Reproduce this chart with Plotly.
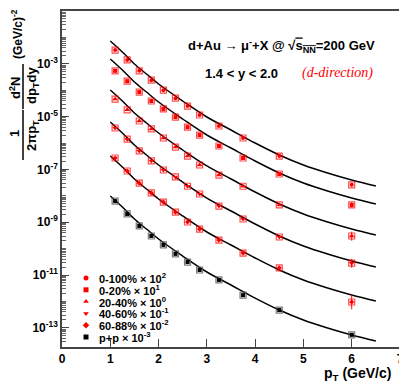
import plotly.graph_objects as go

# --- data ---
pt = [1.1, 1.35, 1.6, 1.85, 2.1, 2.35, 2.6, 2.85, 3.25, 3.75, 4.5, 6.0]

dau_0_100 = [3.3e-3, 1.4e-3, 5.4e-4, 2.4e-4, 1.0e-4, 5.0e-5, 2.5e-5, 1.15e-5, 4.4e-6, 1.55e-6, 3.2e-7, 2.6e-8]
dau_0_20 = [5.4e-4, 2.2e-4, 8.5e-5, 3.9e-5, 1.95e-5, 9.6e-6, 4.0e-6, 2.0e-6, 7.7e-7, 2.7e-7, 6.7e-8, 4.5e-9]
dau_20_40 = [4.6e-5, 1.8e-5, 6.8e-6, 3.4e-6, 1.55e-6, 7.0e-7, 3.2e-7, 1.47e-7, 6.1e-8, 2.3e-8, 4.5e-9, 3.0e-10]
dau_40_60 = [3.7e-6, 1.4e-6, 5.0e-7, 2.1e-7, 9.5e-8, 5.2e-8, 2.3e-8, 1.17e-8, 4.1e-9, 1.32e-9, 2.75e-10, 2.8e-11]
dau_60_88 = [2.7e-7, 8.7e-8, 3.0e-8, 1.28e-8, 5.8e-9, 2.4e-9, 1.02e-9, 5.5e-10, 2.1e-10, 6.8e-11, 1.85e-11, 9.5e-13]
pp_ref = [6.3e-9, 2.05e-9, 7.2e-10, 3.0e-10, 1.38e-10, 6.3e-11, 3.1e-11, 1.55e-11, 6.5e-12, 1.73e-12, 4.7e-13, 5.4e-14]

# statistical errors (only visible at high pT)
err_up = {
    "0-100": [0] * 11 + [4.0e-9],
    "0-20": [0] * 11 + [1.2e-9],
    "20-40": [0] * 11 + [1.4e-10],
    "40-60": [0] * 11 + [1.3e-11],
    "60-88": [0] * 11 + [8.0e-13],
    "pp": [0] * 12,
}
err_dn = {
    "0-100": [0] * 11 + [3.5e-9],
    "0-20": [0] * 11 + [9.0e-10],
    "20-40": [0] * 11 + [1.0e-10],
    "40-60": [0] * 11 + [9.0e-12],
    "60-88": [0] * 11 + [4.5e-13],
    "pp": [0] * 12,
}

# fit curves
fit_pt = [1.0, 1.25, 1.5, 1.75, 2.0, 2.5, 3.0, 3.5, 4.0, 4.5, 5.0, 5.5, 6.0, 6.5]
fit_0_100 = [7.31e-3, 2.80e-3, 9.84e-4, 4.11e-4, 1.72e-4, 3.90e-5, 9.66e-6, 3.11e-6, 1.0e-6, 3.52e-7, 1.47e-7, 7.31e-8, 3.97e-8, 2.36e-8]
fit_0_20 = [1.52e-3, 5.82e-4, 2.05e-4, 8.55e-5, 3.57e-5, 8.11e-6, 2.01e-6, 6.47e-7, 2.08e-7, 7.31e-8, 3.05e-8, 1.52e-8, 8.26e-9, 4.90e-9]
fit_20_40 = [1.02e-4, 3.90e-5, 1.37e-5, 5.73e-6, 2.39e-6, 5.43e-7, 1.35e-7, 4.34e-8, 1.39e-8, 4.90e-9, 2.05e-9, 1.02e-9, 5.53e-10, 3.28e-10]
fit_40_60 = [6.24e-6, 2.39e-6, 8.39e-7, 3.51e-7, 1.47e-7, 3.33e-8, 8.24e-9, 2.65e-9, 8.53e-10, 3.00e-10, 1.25e-10, 6.24e-11, 3.39e-11, 2.01e-11]
fit_60_88 = [3.22e-7, 1.23e-7, 4.34e-8, 1.81e-8, 7.57e-9, 1.72e-9, 4.26e-10, 1.37e-10, 4.41e-11, 1.55e-11, 6.47e-12, 3.22e-12, 1.75e-12, 1.04e-12]
fit_pp = [9.82e-9, 3.76e-9, 1.32e-9, 5.52e-10, 2.31e-10, 5.24e-11, 1.30e-11, 4.18e-12, 1.34e-12, 4.72e-13, 1.97e-13, 9.82e-14, 5.33e-14, 3.16e-14]

y_tick_vals = [1e-1, 1e-3, 1e-5, 1e-7, 1e-9, 1e-11, 1e-13]
y_tick_text = ["10<sup>-1</sup>", "10<sup>-3</sup>", "10<sup>-5</sup>", "10<sup>-7</sup>",
               "10<sup>-9</sup>", "10<sup>-11</sup>", "10<sup>-13</sup>"]

series = [
    ("0-100", "0-100% × 10<sup>2</sup>", dau_0_100, fit_0_100, "circle", "red", 4),
    ("0-20", "0-20% × 10<sup>1</sup>", dau_0_20, fit_0_20, "square", "red", 4),
    ("20-40", "20-40% × 10<sup>0</sup>", dau_20_40, fit_20_40, "triangle-up", "red", 5),
    ("40-60", "40-60% × 10<sup>-1</sup>", dau_40_60, fit_40_60, "triangle-down", "red", 5),
    ("60-88", "60-88% × 10<sup>-2</sup>", dau_60_88, fit_60_88, "diamond", "red", 4),
    ("pp", "p+p × 10<sup>-3</sup>", pp_ref, fit_pp, "square", "black", 4),
]

# --- layout in pixels ---
# the page body has an 8px margin, so the figure is shrunk and everything is
# positioned in window pixels minus that offset
OFF = 8
WIN_W, WIN_H = 407, 387
W, H = WIN_W - OFF, WIN_H - OFF
ML, MR, MT, MB = 62 - OFF, 7, 11 - OFF, 40
PW, PH = W - ML - MR, H - MT - MB
BOLD = dict(family="Liberation Sans, Arial, sans-serif", color="black", weight="bold")


def px(x):
    return (x - OFF - ML) / PW


def py(y):
    return (H - MB - (y - OFF)) / PH


fig = go.Figure()

for key, label, vals, fit, sym, col, msize in series:
    fig.add_trace(go.Scatter(
        x=fit_pt, y=fit, mode="lines", line=dict(color="black", width=1.5, shape="spline"),
        showlegend=False, hoverinfo="skip"))
    box_col = "rgba(255,0,0,0.7)" if col == "red" else "rgba(90,90,90,0.8)"
    fig.add_trace(go.Scatter(
        x=pt, y=vals, mode="markers",
        marker=dict(symbol="square-open", size=6, color=box_col, line=dict(width=1.2)),
        showlegend=False, hoverinfo="skip"))
    fig.add_trace(go.Scatter(
        x=pt, y=vals, mode="markers", name=label,
        marker=dict(symbol=sym, size=msize, color=col),
        error_y=dict(type="data", array=err_up[key], arrayminus=err_dn[key],
                     color=col, thickness=1, width=0),
        showlegend=False))

# hand-made legend on an overlay axis measured in pixels
leg_x, leg_y0, leg_dy = 86, 278, 11.8
for i, (key, label, vals, fit, sym, col, msize) in enumerate(series):
    row_y = leg_y0 + i * leg_dy
    fig.add_trace(go.Scatter(
        x=[px(leg_x) * PW], y=[py(row_y) * PH], xaxis="x2", yaxis="y2", mode="markers",
        marker=dict(symbol=sym, size=5, color=col), showlegend=False, hoverinfo="skip"))
    fig.add_annotation(text=label, x=px(97), y=py(row_y), xref="paper", yref="paper",
                       xanchor="left", yanchor="middle", showarrow=False,
                       font=dict(BOLD, size=11))

# header text
fig.add_annotation(text="d+Au → μ<sup>-</sup>+X @ √<span style='text-decoration:overline'>s<sub>NN</sub></span>=200 GeV",
                   x=px(281), y=py(46), xref="paper", yref="paper", showarrow=False,
                   xanchor="center", yanchor="middle", font=dict(BOLD, size=13))
fig.add_annotation(text="1.4 < y < 2.0", x=px(241), y=py(73), xref="paper", yref="paper",
                   showarrow=False, xanchor="center", yanchor="middle", font=dict(BOLD, size=13))
fig.add_annotation(text="<i>(d-direction)</i>", x=px(337), y=py(73), xref="paper", yref="paper",
                   showarrow=False, xanchor="center", yanchor="middle",
                   font=dict(family="Liberation Serif, Times New Roman, serif", size=14, color="red"))

# axis titles
fig.add_annotation(text="p<sub>T</sub> (GeV/c)", x=px(357), y=py(374), xref="paper", yref="paper",
                   showarrow=False, xanchor="center", yanchor="middle", font=dict(BOLD, size=14))
ytitle = [
    ("1", 14, 134, 13),
    ("2πp<sub>T</sub>", 32, 136, 13),
    ("d<sup>2</sup>N", 15, 88, 13),
    ("dp<sub>T</sub>dy", 32, 86, 13),
    ("(GeV/c)<sup>-2</sup>", 17, 34, 12),
]
for txt, x0, y0, size in ytitle:
    fig.add_annotation(text=txt, x=px(x0), y=py(y0), xref="paper", yref="paper", textangle=-90,
                       showarrow=False, xanchor="center", yanchor="middle", borderpad=0,
                       font=dict(BOLD, size=size))
for y_top, y_bot in [(110, 160), (64, 109)]:
    fig.add_shape(type="line", xref="paper", yref="paper", x0=px(23), x1=px(23),
                  y0=py(y_top), y1=py(y_bot), line=dict(color="black", width=1.5))

minor_vals = [m * 10.0 ** e for e in range(-14, -1) for m in range(2, 10)]

fig.update_layout(
    width=W, height=H,
    margin=dict(l=ML, r=MR, t=MT, b=MB),
    paper_bgcolor="white", plot_bgcolor="white",
    showlegend=False,
    xaxis=dict(range=[0, 7], tickvals=[0, 1, 2, 3, 4, 5, 6, 7], ticks="inside", ticklen=8,
               tickcolor="#444", showgrid=False, zeroline=False, showline=True, linecolor="#444",
               linewidth=1.5, mirror=True, tickfont=dict(BOLD, size=12), automargin=False),
    yaxis=dict(type="log", range=[-13.727, -1], tickvals=y_tick_vals, ticktext=y_tick_text,
               ticks="inside", ticklen=7, tickcolor="#444", showgrid=False, zeroline=False,
               showline=True, linecolor="#444", linewidth=1.5, mirror=True,
               tickfont=dict(BOLD, size=12), automargin=False,
               minor=dict(tickvals=minor_vals + [10.0 ** e for e in range(-14, -1)],
                          ticks="inside", ticklen=4, tickcolor="#666", showgrid=False)),
    xaxis2=dict(overlaying="x", range=[0, PW], visible=False, automargin=False),
    yaxis2=dict(overlaying="y", range=[0, PH], visible=False, automargin=False),
)

fig.write_html("out.html")
